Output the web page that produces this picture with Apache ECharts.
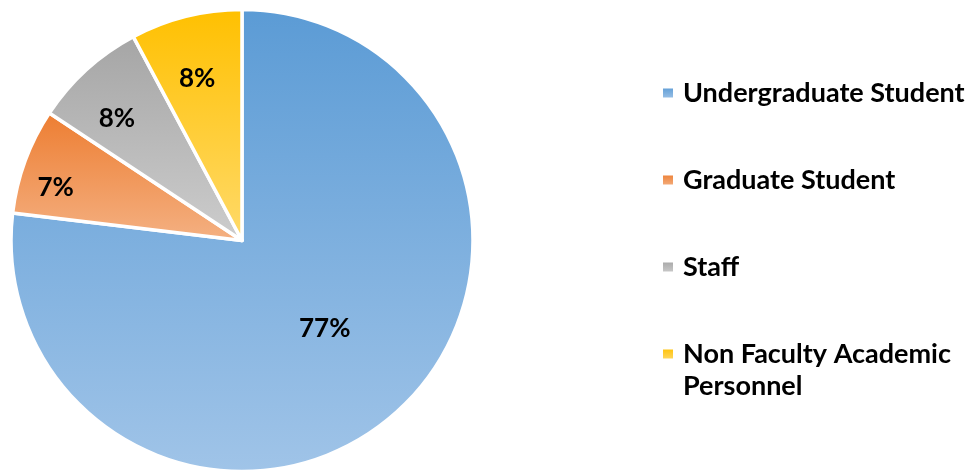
<!DOCTYPE html>
<html>
<head>
<meta charset="utf-8">
<script src="https://cdn.jsdelivr.net/npm/echarts@6/dist/echarts.min.js"></script>
<style>
html,body{margin:0;padding:0;background:#fff;}
#chart{width:979px;height:470px;}
</style>
</head>
<body>
<div id="chart"></div>
<script>
// ---- data ----
var categories = ['Undergraduate Student', 'Graduate Student', 'Staff', 'Non Faculty Academic Personnel'];
var shares = [76.9, 7.4, 7.9, 7.8];
var percentLabels = ['77%', '7%', '8%', '8%'];

// ---- styling ----
var gradTop = ['#5B9BD5', '#ED7D31', '#A5A5A5', '#FFC000'];
var gradBottom = ['#A0C4E8', '#F4B183', '#CDCDCD', '#FFDA6A'];
var labelRadiusFrac = [0.51, 0.825, 0.744, 0.714];
var labelAngleShift = [-1.7, -4.5, -3.4, -1.5];

var CX = 242, CY = 240.5, R = 231;
var FONT = 'Lato, "Open Sans", sans-serif';

function grad(i) {
  return new echarts.graphic.LinearGradient(0, 0, 0, 1, [
    { offset: 0, color: gradTop[i] },
    { offset: 1, color: gradBottom[i] }
  ]);
}

var total = shares.reduce(function (a, b) { return a + b; }, 0);
var labelDelta = (function () {
  var out = [], cum = 0;
  for (var i = 0; i < shares.length; i++) {
    var midCw = (cum + shares[i] / 2) / total * 360; // clockwise from top
    cum += shares[i];
    var def = midCw * Math.PI / 180;
    var tgt = (midCw + labelAngleShift[i]) * Math.PI / 180;
    var d0 = 0.5 * R, d1 = labelRadiusFrac[i] * R;
    out.push({
      dx: Math.sin(tgt) * d1 - Math.sin(def) * d0,
      dy: -Math.cos(tgt) * d1 + Math.cos(def) * d0
    });
  }
  return out;
})();

var chart = echarts.init(document.getElementById('chart'), null, { renderer: 'canvas' });

var pieData = categories.map(function (c, i) {
  return { name: c, value: shares[i], itemStyle: { color: grad(i) } };
});

var legendText = {
  fontFamily: FONT, fontWeight: 'bold', fontSize: 27, color: '#000',
  lineHeight: 32, padding: [0, 0, 0, 4]
};

chart.setOption({
  animation: false,
  backgroundColor: '#fff',
  legend: [
    {
      orient: 'vertical',
      left: 661, top: 77, padding: 0,
      itemWidth: 12, itemHeight: 11, itemGap: 55,
      icon: 'rect',
      selectedMode: false,
      data: categories.slice(0, 3),
      textStyle: legendText
    },
    {
      orient: 'vertical',
      left: 661, top: 306, padding: 0,
      itemWidth: 12, itemHeight: 11,
      icon: 'rect',
      selectedMode: false,
      data: categories.slice(3),
      formatter: function () { return '\nNon Faculty Academic\nPersonnel'; },
      textStyle: legendText
    }
  ],
  series: [{
    type: 'pie',
    center: [CX, CY],
    radius: [0, R],
    startAngle: 90,
    clockwise: true,
    avoidLabelOverlap: false,
    itemStyle: { borderColor: '#fff', borderWidth: 3.5 },
    label: {
      show: true,
      position: 'inside',
      formatter: function (p) { return percentLabels[p.dataIndex]; },
      fontFamily: FONT, fontWeight: 'bold', fontSize: 26, color: '#000'
    },
    labelLayout: function (p) {
      return { dx: labelDelta[p.dataIndex].dx, dy: labelDelta[p.dataIndex].dy };
    },
    labelLine: { show: false },
    emphasis: { disabled: true },
    data: pieData
  }]
});
</script>
</body>
</html>
